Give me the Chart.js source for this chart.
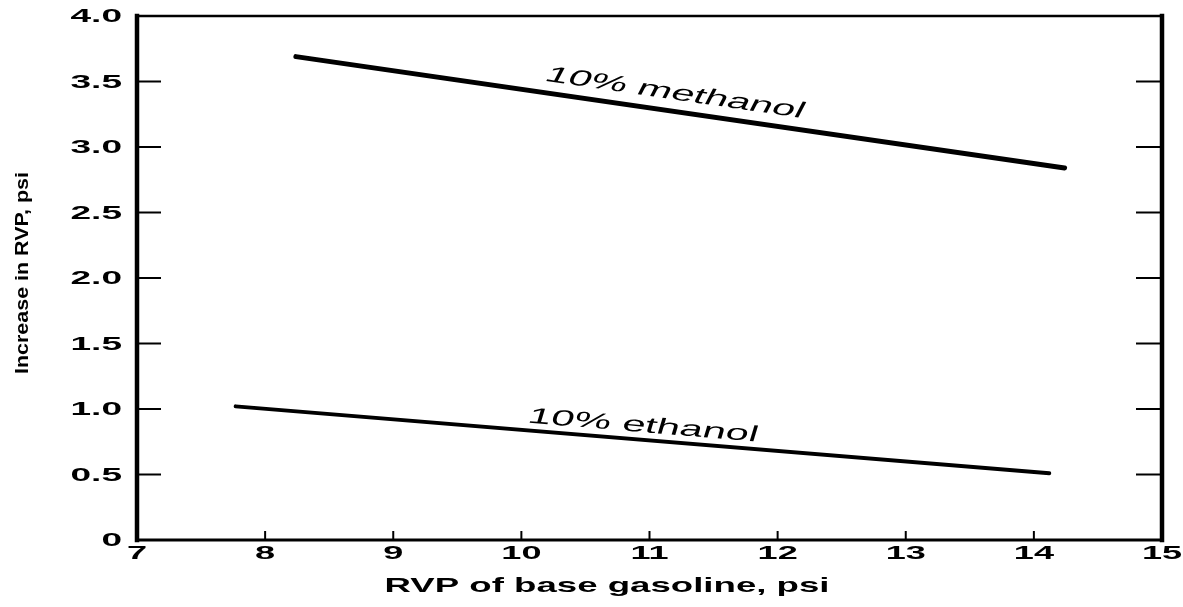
<!DOCTYPE html>
<html>
<head>
<meta charset="utf-8">
<script src="https://cdn.jsdelivr.net/npm/chart.js@4/dist/chart.umd.min.js"></script>
<style>
  html, body { margin: 0; padding: 0; background: #fff; }
  #wrap { width: 1183px; height: 607px; }
</style>
</head>
<body>
<div id="wrap"><canvas id="myChart" width="1183" height="607"></canvas></div>
<script>
const methanolX = [8.24, 14.24]
const methanolY = [3.69, 2.84]
const ethanolX = [7.77, 14.12]
const ethanolY = [1.02, 0.51]
const xTicks = [7, 8, 9, 10, 11, 12, 13, 14, 15]
const yTicks = [0, 0.5, 1.0, 1.5, 2.0, 2.5, 3.0, 3.5, 4.0]
const xTitle = 'RVP of base gasoline, psi'
const yTitle = 'Increase in RVP, psi'
const labels = [
  { text: '10% methanol', x: 11.2, y: 3.41, series: 0 },
  { text: '10% ethanol', x: 10.95, y: 0.87, series: 1 }
]

// the scan is stretched sideways, so text gets the same stretch
const STRETCH = 1.9

const toPoints = (xs, ys) => xs.map((x, i) => ({ x: x, y: ys[i] }))

function wideText (ctx, text, x, y, sx) {
  ctx.save()
  ctx.translate(x, y)
  ctx.scale(sx, 1)
  ctx.fillText(text, 0, 0)
  ctx.restore()
}

const framePlugin = {
  id: 'frame',
  afterDraw: chart => {
    const ctx = chart.ctx
    const xs = chart.scales.x
    const ys = chart.scales.y
    const { top, left, right, bottom } = chart.chartArea
    ctx.save()
    ctx.strokeStyle = '#000'
    ctx.fillStyle = '#000'

    // frame
    ctx.lineCap = 'square'
    ctx.lineWidth = 4.5
    ctx.beginPath(); ctx.moveTo(left, top); ctx.lineTo(left, bottom); ctx.stroke()
    ctx.beginPath(); ctx.moveTo(right, top); ctx.lineTo(right, bottom); ctx.stroke()
    ctx.lineWidth = 3
    ctx.beginPath(); ctx.moveTo(left, bottom); ctx.lineTo(right, bottom); ctx.stroke()
    ctx.lineWidth = 2.5
    ctx.beginPath(); ctx.moveTo(left, top); ctx.lineTo(right, top); ctx.stroke()

    // inward tick marks
    ctx.lineWidth = 2
    ctx.lineCap = 'butt'
    yTicks.forEach(v => {
      if (v === 0 || v === 4) return
      const py = ys.getPixelForValue(v)
      ctx.beginPath(); ctx.moveTo(left, py); ctx.lineTo(left + 24, py); ctx.stroke()
      ctx.beginPath(); ctx.moveTo(right, py); ctx.lineTo(right - 26, py); ctx.stroke()
    })
    xTicks.forEach(v => {
      if (v === 7 || v === 15) return
      const px = xs.getPixelForValue(v)
      ctx.beginPath(); ctx.moveTo(px, bottom); ctx.lineTo(px, bottom - 9); ctx.stroke()
    })

    // tick labels
    ctx.font = 'bold 19px "Liberation Sans", Arial, sans-serif'
    ctx.textBaseline = 'middle'
    ctx.textAlign = 'right'
    yTicks.forEach(v => {
      const t = v === 0 ? '0' : v.toFixed(1)
      wideText(ctx, t, left - 15, ys.getPixelForValue(v) + 1, 1.95)
    })
    ctx.textAlign = 'center'
    xTicks.forEach(v => {
      wideText(ctx, String(v), xs.getPixelForValue(v), bottom + 14, 1.9)
    })

    // line labels, rotated along their lines
    ctx.font = '22px "Liberation Sans", Arial, sans-serif'
    labels.forEach(l => {
      const ds = chart.data.datasets[l.series].data
      const dx = xs.getPixelForValue(ds[1].x) - xs.getPixelForValue(ds[0].x)
      const dy = ys.getPixelForValue(ds[1].y) - ys.getPixelForValue(ds[0].y)
      ctx.save()
      ctx.translate(xs.getPixelForValue(l.x), ys.getPixelForValue(l.y))
      ctx.scale(STRETCH, 1)
      ctx.rotate(Math.atan2(dy, dx / STRETCH))
      ctx.fillText(l.text, 0, 0)
      ctx.restore()
    })

    // x title
    ctx.font = 'bold 21px "Liberation Sans", Arial, sans-serif'
    let w = ctx.measureText(xTitle).width
    wideText(ctx, xTitle, 607, 586, 445 / w)

    // y title
    ctx.font = 'bold 19px "Liberation Sans", Arial, sans-serif'
    w = ctx.measureText(yTitle).width
    ctx.save()
    ctx.translate(23, 273)
    ctx.rotate(-Math.PI / 2)
    ctx.scale(202 / w, 1)
    ctx.fillText(yTitle, 0, 0)
    ctx.restore()

    ctx.restore()
  }
}

const config = {
  type: 'line',
  data: {
    datasets: [
      {
        label: '10% methanol',
        data: toPoints(methanolX, methanolY),
        borderColor: '#000',
        borderWidth: 5,
        borderCapStyle: 'round',
        pointRadius: 0,
        fill: false
      },
      {
        label: '10% ethanol',
        data: toPoints(ethanolX, ethanolY),
        borderColor: '#000',
        borderWidth: 4,
        borderCapStyle: 'round',
        pointRadius: 0,
        fill: false
      }
    ]
  },
  plugins: [framePlugin],
  options: {
    responsive: false,
    animation: false,
    layout: { padding: { top: 16, right: 21, left: 0, bottom: 0 } },
    plugins: { legend: { display: false }, tooltip: { enabled: false } },
    scales: {
      x: {
        type: 'linear',
        min: 7,
        max: 15,
        afterBuildTicks: s => { s.ticks = xTicks.map(v => ({ value: v })) },
        afterFit: s => { s.height = 67 },
        grid: { display: false },
        border: { display: false },
        ticks: { display: false }
      },
      y: {
        min: 0,
        max: 4,
        afterBuildTicks: s => { s.ticks = yTicks.map(v => ({ value: v })) },
        afterFit: s => { s.width = 137 },
        grid: { display: false },
        border: { display: false },
        ticks: { display: false }
      }
    }
  }
}

const chart = new Chart(document.getElementById('myChart'), config)
</script>
</body>
</html>
